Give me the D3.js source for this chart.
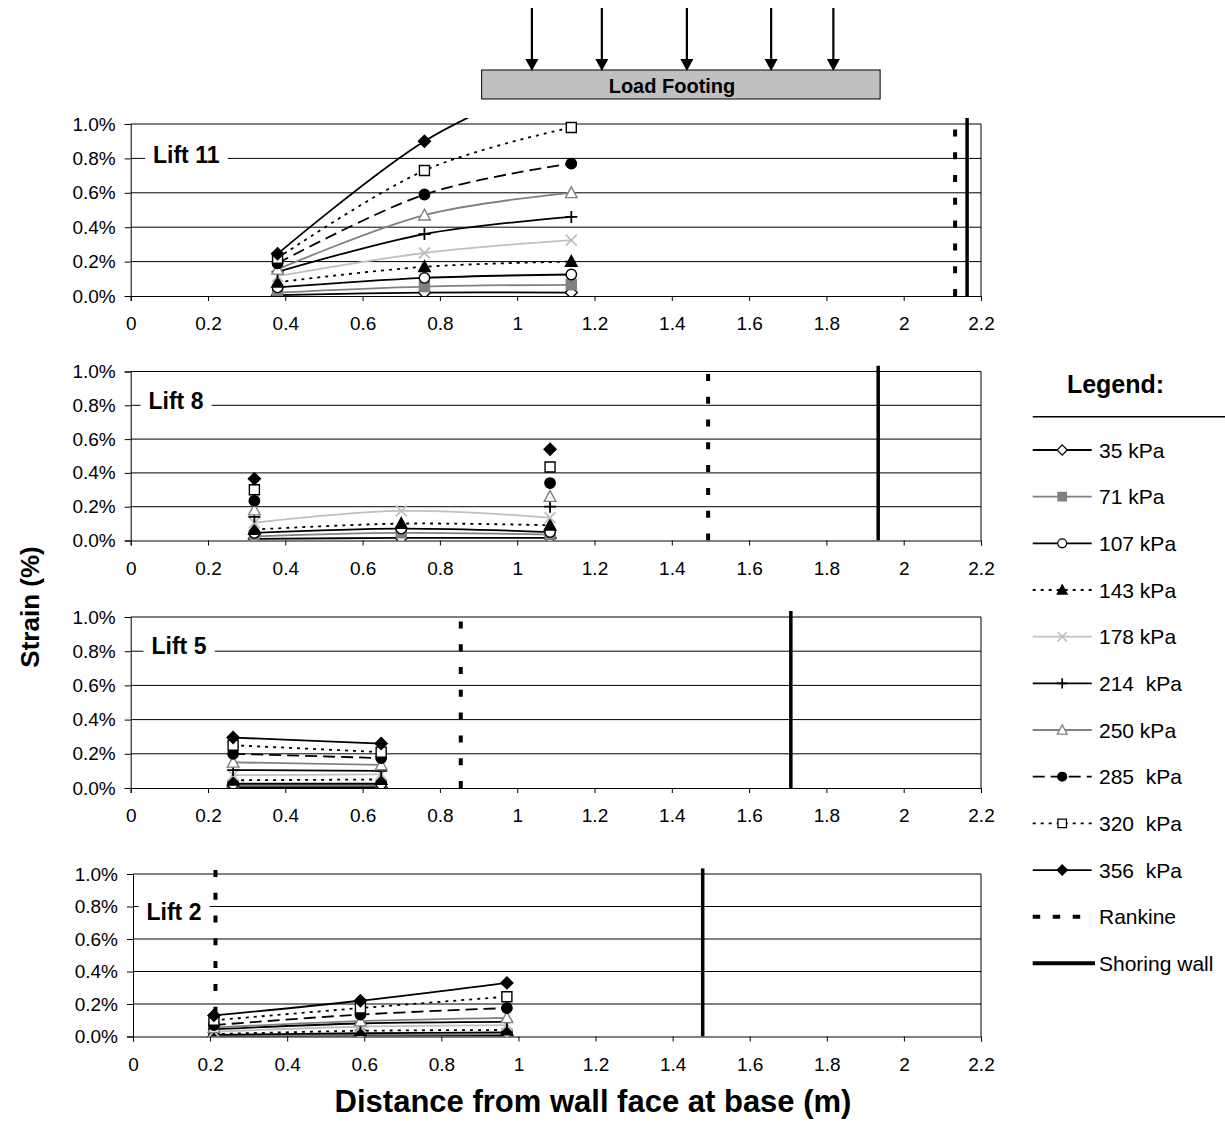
<!DOCTYPE html>
<html><head><meta charset="utf-8">
<script src="https://cdn.jsdelivr.net/npm/d3@7"></script>
<style>
body{margin:0;background:#fff}
svg{display:block;font-family:"Liberation Sans",Arial,Helvetica,sans-serif}
.pre{white-space:pre}
</style></head><body>
<svg id="chart" width="1225" height="1146"></svg>
<script>
// Footing load levels shown in the legend
const loadLabels = ["35 kPa","71 kPa","107 kPa","143 kPa","178 kPa","214  kPa","250 kPa","285  kPa","320  kPa","356  kPa"];
const liftNames = ["Lift 11","Lift 8","Lift 5","Lift 2"];

// Gauge distances from the wall face (m), per lift
const lift11X = [0.38, 0.76, 1.14];
const lift8X  = [0.32, 0.70, 1.085];
const lift5X  = [0.265, 0.648];
const lift2X  = [0.21, 0.59, 0.97];

// Strain (%) for each load level (rows follow loadLabels)
const lift11Strain = [
  [0.005, 0.02, 0.02],
  [0.02, 0.055, 0.065],
  [0.05, 0.105, 0.125],
  [0.08, 0.17, 0.20],
  [0.115, 0.25, 0.325],
  [0.14, 0.36, 0.46],
  [0.155, 0.47, 0.60],
  [0.19, 0.59, 0.77],
  [0.22, 0.73, 0.98],
  [0.245, 0.90, 1.30]
];
const lift8Strain = [
  [0.01, 0.015, 0.015],
  [0.025, 0.045, 0.035],
  [0.045, 0.07, 0.05],
  [0.065, 0.10, 0.09],
  [0.105, 0.175, 0.135],
  [0.14, null, 0.20],
  [0.18, null, 0.26],
  [0.235, null, 0.34],
  [0.30, null, 0.435],
  [0.365, null, 0.54]
];
const lift5Strain = [
  [0.005, 0.005],
  [0.015, 0.015],
  [0.025, 0.025],
  [0.045, 0.05],
  [0.075, 0.08],
  [0.105, 0.10],
  [0.15, 0.135],
  [0.20, 0.175],
  [0.25, 0.21],
  [0.295, 0.26]
];
const lift2Strain = [
  [0.0, 0.005, 0.005],
  [0.005, 0.01, 0.015],
  [0.01, 0.02, 0.025],
  [0.015, 0.035, 0.04],
  [0.03, 0.06, 0.07],
  [0.045, 0.08, 0.09],
  [0.055, 0.095, 0.115],
  [0.07, 0.135, 0.175],
  [0.10, 0.175, 0.245],
  [0.13, 0.22, 0.33]
];

// Rankine failure plane and shoring wall positions at each lift (m)
const rankineX = [2.133, 1.494, 0.854, 0.214];
const shoringX = [2.164, 1.934, 1.708, 1.478];

// Axis ticks
const xTicks = [0, 0.2, 0.4, 0.6, 0.8, 1, 1.2, 1.4, 1.6, 1.8, 2, 2.2];
const yTicks = [0, 0.2, 0.4, 0.6, 0.8, 1.0];
const xTickLabels = ["0","0.2","0.4","0.6","0.8","1","1.2","1.4","1.6","1.8","2","2.2"];
const yTickLabels = ["0.0%","0.2%","0.4%","0.6%","0.8%","1.0%"];

// Load footing extent and arrow positions (m from wall face)
const footingSpan = [0.908, 1.939];
const arrowPos = [1.038, 1.219, 1.439, 1.657, 1.818];

const xData = [lift11X, lift8X, lift5X, lift2X];
const strainData = [lift11Strain, lift8Strain, lift5Strain, lift2Strain];

// Line and marker styling per load level
const styles = [
  {stroke:"#000", dash:null, m:"diamond", fill:"#fff", ms:"#000"},
  {stroke:"#808080", dash:null, m:"square", fill:"#808080", ms:"#808080"},
  {stroke:"#000", dash:null, m:"circle", fill:"#fff", ms:"#000"},
  {stroke:"#000", dash:"3,5", m:"triangle", fill:"#000", ms:"#000"},
  {stroke:"#c0c0c0", dash:null, m:"x", fill:"none", ms:"#c0c0c0"},
  {stroke:"#000", dash:null, m:"plus", fill:"none", ms:"#000"},
  {stroke:"#808080", dash:null, m:"triangle", fill:"#fff", ms:"#808080"},
  {stroke:"#000", dash:"12,6", m:"circle", fill:"#000", ms:"#000"},
  {stroke:"#000", dash:"3,5", m:"square", fill:"#fff", ms:"#000"},
  {stroke:"#000", dash:null, m:"diamond", fill:"#000", ms:"#000"}
];

function markerPath(type){
  switch(type){
    case "diamond": return "M0,-6L6,0L0,6L-6,0Z";
    case "square": return "M-5,-5H5V5H-5Z";
    case "circle": return d3.symbol(d3.symbolCircle, 85)();
    case "triangle": return "M0,-6L5.8,4.8H-5.8Z";
    case "x": return "M-5.5,-5.5L5.5,5.5M-5.5,5.5L5.5,-5.5";
    case "plus": return "M-6,0H6M0,-6V6";
  }
}

// Panel frames
const panels = [
  {left:130.7, right:981, top:124,   bottom:296,   label:[153, 162.7]},
  {left:130.7, right:981, top:371.5, bottom:540.5, label:[148.5, 409]},
  {left:130.7, right:981, top:617,   bottom:788,   label:[151.5, 654]},
  {left:133,   right:981, top:874,   bottom:1036.5,label:[146.5, 920]}
];

const svg = d3.select("#chart");
const font = '"Liberation Sans",Arial,Helvetica,sans-serif';

panels.forEach((p, i) => {
  const x = d3.scaleLinear().domain([0, 2.2]).range([p.left, p.right]);
  const y = d3.scaleLinear().domain([0, 1.0]).range([p.bottom, p.top]);
  const g = svg.append("g");

  // clip region slightly taller than the plot box
  const clipId = "clip" + i;
  svg.append("clipPath").attr("id", clipId).append("rect")
    .attr("x", x(0)).attr("y", y(1.035))
    .attr("width", x(2.2) - x(0)).attr("height", y(0) - y(1.035));

  // horizontal gridlines
  g.selectAll(".grid").data(yTicks.filter(t => t > 0)).join("line")
    .attr("x1", x(0)).attr("x2", x(2.2))
    .attr("y1", d => y(d)).attr("y2", d => y(d))
    .attr("stroke", "#000").attr("stroke-width", 1);
  // right border
  g.append("line").attr("x1", x(2.2)).attr("x2", x(2.2))
    .attr("y1", y(0)).attr("y2", y(1)).attr("stroke", "#000").attr("stroke-width", 1);

  // axes
  const yAxis = d3.axisLeft(y).tickValues(yTicks).tickSize(6)
    .tickFormat((d, k) => yTickLabels[k]).tickPadding(9);
  const ya = g.append("g").attr("transform", `translate(${x(0)},0)`).call(yAxis);
  const xAxis = d3.axisBottom(x).tickValues(xTicks).tickSize(5)
    .tickFormat((d, k) => xTickLabels[k]).tickPadding(16);
  const xa = g.append("g").attr("transform", `translate(0,${y(0)})`).call(xAxis);
  [ya, xa].forEach(a => {
    a.select(".domain").attr("stroke", "#000").attr("stroke-width", 1);
    a.selectAll(".tick line").attr("stroke", "#000");
    a.selectAll("text").attr("font-family", font).attr("font-size", 19).attr("fill", "#000");
  });

  // Lift label with white backing over the gridline
  const lbl = g.append("text").attr("x", p.label[0]).attr("y", p.label[1])
    .attr("font-family", font).attr("font-weight", "bold").attr("font-size", 23)
    .text(liftNames[i]);
  const bb = lbl.node().getBBox();
  g.insert("rect", () => lbl.node()).attr("x", bb.x - 8).attr("y", bb.y + 2)
    .attr("width", bb.width + 16).attr("height", bb.height - 4).attr("fill", "#fff");

  const plot = g.append("g").attr("clip-path", `url(#${clipId})`);

  // Rankine failure plane
  plot.append("line").attr("x1", x(rankineX[i])).attr("x2", x(rankineX[i]))
    .attr("y1", y(0)).attr("y2", y(1.035))
    .attr("stroke", "#000").attr("stroke-width", 4).attr("stroke-dasharray", "7,15.8");
  // Shoring wall
  plot.append("line").attr("x1", x(shoringX[i])).attr("x2", x(shoringX[i]))
    .attr("y1", y(0)).attr("y2", y(1.035))
    .attr("stroke", "#000").attr("stroke-width", 3.5);

  const xs = xData[i];
  const line = d3.line()
    .x(d => x(d.x)).y(d => y(d.v)).curve(d3.curveCardinal.tension(0));

  strainData[i].forEach((row, s) => {
    const st = styles[s];
    const pts = row.map((v, k) => ({x: xs[k], v}));
    // only draw runs of consecutive defined points
    const segs = [];
    let cur = [];
    pts.forEach(pt => { if (pt.v == null) { if (cur.length) segs.push(cur); cur = []; } else cur.push(pt); });
    if (cur.length) segs.push(cur);
    segs.filter(sg => sg.length > 1).forEach(sg => {
      plot.append("path").attr("d", line(sg)).attr("fill", "none")
        .attr("stroke", st.stroke).attr("stroke-width", 1.8)
        .attr("stroke-dasharray", st.dash);
    });
    plot.selectAll(null).data(pts.filter(pt => pt.v != null)).join("path")
      .attr("transform", d => `translate(${x(d.x)},${y(d.v)})`)
      .attr("d", markerPath(st.m))
      .attr("fill", st.fill).attr("stroke", st.ms)
      .attr("stroke-width", (st.m === "x" || st.m === "plus") ? 1.8 : 1.4);
  });
});

// Load footing sketch above the top panel
{
  const p = panels[0];
  const x = d3.scaleLinear().domain([0, 2.2]).range([p.left, p.right]);
  const top = svg.append("g");
  top.append("rect").attr("x", x(footingSpan[0])).attr("y", 70)
    .attr("width", x(footingSpan[1]) - x(footingSpan[0])).attr("height", 29)
    .attr("fill", "#c0c0c0").attr("stroke", "#000").attr("stroke-width", 1);
  top.append("text").attr("x", 672).attr("y", 93)
    .attr("text-anchor", "middle").attr("font-family", font).attr("font-weight", "bold")
    .attr("font-size", 20).text("Load Footing");
  arrowPos.forEach(a => {
    top.append("line").attr("x1", x(a)).attr("x2", x(a)).attr("y1", 8).attr("y2", 62)
      .attr("stroke", "#000").attr("stroke-width", 2.2);
    top.append("path").attr("d", `M${x(a) - 6.5},59L${x(a) + 6.5},59L${x(a)},71Z`).attr("fill", "#000");
  });
}

// Axis titles
svg.append("text").attr("transform", "translate(39,607) rotate(-90)")
  .attr("text-anchor", "middle").attr("font-family", font).attr("font-weight", "bold")
  .attr("font-size", 26).text("Strain (%)");
svg.append("text").attr("x", 593).attr("y", 1112)
  .attr("text-anchor", "middle").attr("font-family", font).attr("font-weight", "bold")
  .attr("font-size", 31).text("Distance from wall face at base (m)");

// Legend
{
  const lg = svg.append("g");
  lg.append("text").attr("x", 1115.5).attr("y", 393).attr("text-anchor", "middle")
    .attr("font-family", font).attr("font-weight", "bold").attr("font-size", 25).text("Legend:");
  lg.append("line").attr("x1", 1032.7).attr("x2", 1225).attr("y1", 416.7).attr("y2", 416.7)
    .attr("stroke", "#000").attr("stroke-width", 1.5);
  const x0 = 1032.7, x1 = 1091.7, xm = 1062.2, tx = 1099;
  const rowY = k => 450 + k * 46.67;
  loadLabels.forEach((lab, k) => {
    const st = styles[k];
    const yy = rowY(k);
    lg.append("line").attr("x1", x0).attr("x2", x1).attr("y1", yy).attr("y2", yy)
      .attr("stroke", st.stroke).attr("stroke-width", 1.8).attr("stroke-dasharray", st.dash);
    lg.append("path").attr("transform", `translate(${xm},${yy}) scale(0.85)`)
      .attr("d", markerPath(st.m)).attr("fill", st.fill).attr("stroke", st.ms)
      .attr("stroke-width", (st.m === "x" || st.m === "plus") ? 2 : 1.5);
    lg.append("text").attr("class", "pre").attr("x", tx).attr("y", yy).attr("dy", "0.36em")
      .attr("font-family", font).attr("font-size", 21).text(lab);
  });
  const yR = rowY(10), yS = rowY(11);
  lg.append("line").attr("x1", x0).attr("x2", x1).attr("y1", yR).attr("y2", yR)
    .attr("stroke", "#000").attr("stroke-width", 4).attr("stroke-dasharray", "7.5,12.5");
  lg.append("text").attr("x", tx).attr("y", yR).attr("dy", "0.36em")
    .attr("font-family", font).attr("font-size", 21).text("Rankine");
  lg.append("line").attr("x1", x0).attr("x2", 1095).attr("y1", yS).attr("y2", yS)
    .attr("stroke", "#000").attr("stroke-width", 4);
  lg.append("text").attr("x", tx).attr("y", yS).attr("dy", "0.36em")
    .attr("font-family", font).attr("font-size", 21).text("Shoring wall");
}
</script>
</body></html>
